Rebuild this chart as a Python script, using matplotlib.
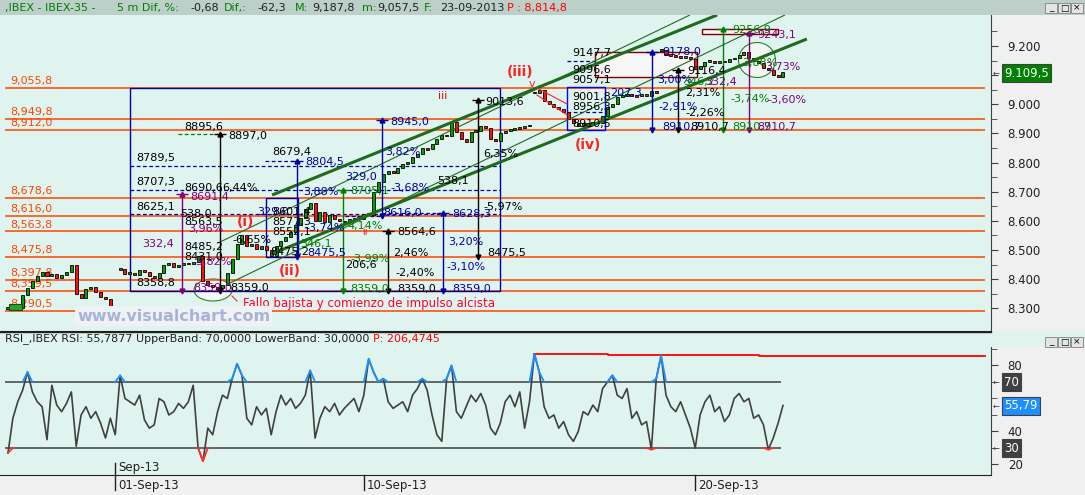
import numpy as np
import matplotlib.pyplot as plt
from matplotlib.patches import Rectangle, Ellipse
from matplotlib.lines import Line2D

W, H = 1085, 495

# 5 minute closes, IBEX-35
closes = [8300, 8296, 8302, 8345, 8370, 8395, 8412, 8425, 8410, 8418,
          8405, 8415, 8425, 8448, 8350, 8335, 8365, 8372, 8355, 8340,
          8332, 8305, 8298, 8435, 8418, 8422, 8415, 8430, 8425, 8410,
          8404, 8420, 8450, 8455, 8440, 8450, 8455, 8452, 8458, 8480,
          8395, 8380, 8372, 8368, 8380, 8420, 8470, 8520, 8552, 8515,
          8520, 8505, 8512, 8500, 8478, 8515, 8530, 8545, 8560, 8585,
          8610, 8640, 8660, 8600, 8630, 8595, 8620, 8605, 8600, 8595,
          8605, 8610, 8608, 8625, 8620, 8700, 8735, 8760, 8770, 8765,
          8780, 8795, 8800, 8820, 8830, 8850, 8845, 8865, 8880, 8895,
          8890, 8940, 8905, 8880, 8870, 8905, 8910, 8925, 8920, 8880,
          8875, 8900, 8910, 8912, 8920, 8918, 8925, 8930, 9040, 9050,
          9010, 9000, 8990, 8985, 8975, 8950, 8935, 8925, 8935, 8930,
          8940, 8935, 8960, 8990, 9000, 9025, 9030, 9035, 9030, 9028,
          9035, 9030, 9045, 9040, 9185, 9170, 9168, 9165, 9160, 9162,
          9155, 9120, 9130, 9145, 9150, 9142, 9148, 9145, 9155, 9160,
          9170, 9178, 9160, 9150, 9140, 9125, 9118, 9100, 9095, 9109.5]
gap_bars = [23, 108, 134]

rsi = [27, 48, 58, 65, 76, 64, 58, 55, 35, 68,
       56, 52, 57, 64, 31, 50, 55, 48, 52, 45,
       36, 48, 38, 74, 60, 58, 56, 62, 47, 42,
       44, 60, 58, 50, 52, 57, 54, 58, 68, 30,
       22, 42, 38, 52, 62, 60, 72, 81, 74, 48,
       44, 55, 50, 54, 38, 52, 62, 56, 60, 54,
       57, 62, 77, 36, 48, 55, 52, 57, 50, 54,
       57, 60, 52, 62, 84, 76, 70, 72, 58, 54,
       56, 58, 52, 62, 66, 72, 65, 50, 38, 34,
       72, 80, 52, 48, 55, 62, 58, 63, 56, 42,
       38, 45, 58, 62, 55, 64, 42, 58, 87, 76,
       55, 48, 50, 42, 46, 38, 34, 40, 52, 50,
       56, 52, 66, 70, 74, 62, 60, 66, 48, 52,
       44, 46, 29, 72, 86, 62, 55, 52, 58, 50,
       42, 30, 50, 58, 62, 52, 55, 46, 50, 60,
       63, 58, 60, 48, 50, 44, 29, 36, 45, 55.8]
rsi_bands = [70, 30]
rsi_max_x = [108, 123, 154, 200.5]
rsi_max_v = [86.8, 86.2, 85.8, 85.8]

levels = [9055.8, 8949.8, 8912.0, 8678.6, 8616.0, 8563.8, 8475.8, 8397.8, 8359.5, 8290.5]
fib_box = (25.0, 100.9, 8359.0, 9055.8)
fib_levels = [8789.5, 8707.3, 8625.1]

# (bar, from, to, colour) measuring arrows
measures = [(35.7, 8359.0, 8691.4, '#800080'),
            (43.5, 8359.0, 8897.0, 'black'),
            (59.3, 8475.5, 8804.5, '#0000a0'),
            (68.7, 8359.0, 8705.1, '#008000'),
            (76.7, 8616.0, 8945.0, '#0000a0'),
            (78.0, 8359.0, 8564.6, 'black'),
            (89.3, 8359.0, 8628.3, '#0000a0'),
            (96.4, 8475.5, 9013.6, 'black'),
            (132.1, 8910.7, 9178.0, '#0000a0'),
            (137.5, 8910.7, 9116.4, 'black'),
            (146.7, 8910.7, 9256.9, '#008000'),
            (152.0, 8910.7, 9243.1, '#800080')]

# trend channel (start, end, width)
channel_lines = [((54.2, 8688.7), (145.5, 9306.4), 2.2),
                 ((54.0, 8486.2), (163.9, 9224.0), 2.2),
                 ((43.1, 8524.0), (139.9, 9306.4), 0.8),
                 ((45.1, 8383.3), (159.4, 9306.4), 0.8)]

date_pos = [22, 73, 141]
date_labels = ['01-Sep-13', '10-Sep-13', '20-Sep-13']

MINT = '#e0f4ef'
GRAY = '#f0f0f0'
ORANGE = '#ff4500'
NAVY = '#0000a0'
PURPLE = '#800080'
GREEN = '#008000'
plt.rcParams['font.family'] = ['DejaVu Sans']


def fx(px):
    return px / W


def fy(py):
    return 1 - py / H


def bx(px):
    return (px - 8) / 4.874


def pr(py):
    return 9200 - (py - 46) / 0.2914


fig = plt.figure(figsize=(W / 100, H / 100), dpi=100, facecolor=GRAY)

# ---- price panel ----
ax = fig.add_axes([0, fy(331), fx(991), (331 - 15) / H])
ax.set_facecolor(MINT)
ax.set_xlim(bx(0), bx(991))
ax.set_ylim(pr(331), pr(15))
for s in ['left', 'top']:
    ax.spines[s].set_visible(False)
ax.spines['right'].set_color('#404040')
ax.spines['bottom'].set_color('#202020')
ax.set_xticks([])
ax.yaxis.tick_right()
yt = list(range(8300, 9201, 100))
ax.set_yticks(yt)
# 9.100 sits under the last-price box
ax.set_yticklabels(['' if v == 9100 else f'{v // 1000}.{v % 1000:03d}' for v in yt])
ax.set_yticks([v + 50 for v in yt], minor=True)
ax.tick_params(axis='y', which='major', direction='out', length=5, colors='#404040',
               labelcolor='#202020', labelsize=8.5, pad=7)
ax.tick_params(axis='y', which='minor', direction='out', length=4, colors='#404040')

x = np.arange(len(closes))
c = np.array(closes, dtype=float)
o = np.concatenate([[c[0]], c[:-1]])
o[gap_bars] = c[gap_bars]
up = c >= o
h = np.maximum(np.abs(c - o), 6)
bot = np.minimum(o, c) - (h - np.abs(c - o)) / 2
ax.bar(x, h, bottom=bot, width=0.62, color=np.where(up, '#00a000', '#ff1010'),
       edgecolor='black', linewidth=0.6, zorder=4)

# horizontal levels
ax.hlines(levels, bx(5), bx(985), color=ORANGE, lw=1.1, zorder=2)
for lv in levels:
    txt = f'{lv:,.1f}'.replace('.', ',')
    ax.text(bx(10), lv + 6, txt, color=ORANGE, fontsize=8, va='bottom', zorder=3)

# fibonacci box
x0, x1, p0, p1 = fib_box
ax.add_patch(Rectangle((x0, p0), x1 - x0, p1 - p0, fill=False, edgecolor=NAVY, lw=1, zorder=2))
ax.hlines(fib_levels, x0, x1, color=NAVY, lw=0.9, linestyles=(0, (3, 2)), zorder=2)

# extra boxes
ax.add_patch(Rectangle((bx(266), 8475.8), bx(298) - bx(266), 8678.6 - 8475.8,
                       fill=False, edgecolor=NAVY, lw=1, zorder=3))
ax.add_patch(Rectangle((bx(567), pr(130)), bx(605) - bx(567), pr(87) - pr(130),
                       fill=False, edgecolor='#0000ff', lw=1, zorder=3))
ax.add_patch(Rectangle((bx(595), pr(77)), bx(697) - bx(595), pr(52) - pr(77),
                       facecolor='#f6f6f6', edgecolor='#800000', lw=1, zorder=1.5))
ax.add_patch(Rectangle((bx(702), pr(34)), bx(778) - bx(702), pr(29) - pr(34),
                       facecolor='#f6f6f6', edgecolor='#800000', lw=1, zorder=1.5))

# dashed short levels
ax.hlines(8897.0, bx(178), bx(220), color=GREEN, lw=0.9, linestyles=(0, (3, 2)), zorder=3)
ax.hlines(8804.5, bx(265), bx(297), color=NAVY, lw=0.9, linestyles=(0, (3, 2)), zorder=3)
ax.hlines(8616.0, bx(345), bx(382), color=NAVY, lw=0.9, linestyles=(0, (3, 2)), zorder=3)
ax.hlines(8628.3, bx(382), bx(443), color=NAVY, lw=0.9, linestyles=(0, (3, 2)), zorder=3)
ax.hlines(pr(61), bx(567), bx(595), color=NAVY, lw=0.9, linestyles=(0, (3, 2)), zorder=3)
ax.hlines(pr(112), bx(567), bx(605), color=NAVY, lw=0.9, linestyles=(0, (3, 2)), zorder=3)

# ellipses
ax.add_patch(Ellipse((bx(213), pr(290)), 38 / 4.874, 22 / 0.2914, facecolor='#f4faf7',
                     edgecolor='#2e7d2e', lw=0.8, zorder=1.5))
ax.add_patch(Ellipse((bx(757), pr(60)), 37 / 4.874, 35 / 0.2914, facecolor='#eef7f2',
                     edgecolor='#2e7d2e', lw=0.8, zorder=1.5))

# channel
for (xa, ya), (xb, yb), lw in channel_lines:
    ax.plot([xa, xb], [ya, yb], color='#1e6b1e', lw=lw, solid_capstyle='butt', zorder=5)

# red corrective channel
ax.plot([bx(537), bx(567)], [pr(88), pr(104)], color='#ff2020', lw=0.8, zorder=5)
ax.plot([bx(537), bx(567)], [pr(95), pr(115)], color='#ff2020', lw=0.8, zorder=5)

# measuring arrows
for bar, lo, hi, col in measures:
    ax.vlines(bar, lo, hi, color=col, lw=1, zorder=6)
    ax.plot(bar, hi, marker='^', color=col, ms=3.5, zorder=6)
    ax.plot(bar, hi, marker='_', color=col, ms=8, mew=1, zorder=6)
    ax.plot(bar, lo, marker='v', color=col, ms=3.5, zorder=6)

labels = [
    ('8895,6', 184, 127, 'k'), ('8897,0', 228, 136, 'k'), ('8789,5', 136, 158, 'k'),
    ('8707,3', 136, 182, 'k'), ('8690,6', 184, 188, 'k'), ('6,44%', 222, 188, 'k'),
    ('8691,4', 190, 197, PURPLE), ('8625,1', 136, 207, 'k'), ('538,0', 180, 214, 'k'),
    ('8563,5', 184, 222, 'k'), ('3,96%', 188, 229, PURPLE), ('332,4', 142, 244, PURPLE),
    ('8485,2', 184, 247, 'k'), ('8431,0', 184, 257, 'k'), ('-3,82%', 192, 262, PURPLE),
    ('8358,8', 136, 283, 'k'), ('8359,0', 193, 288, PURPLE), ('8359,0', 230, 288, 'k'),
    ('-6,65%', 232, 240, 'k'), ('8679,4', 272, 152, 'k'), ('8804,5', 305, 162, NAVY),
    ('329,0', 345, 177, NAVY), ('3,88%', 303, 192, NAVY), ('329,0', 257, 212, NAVY),
    ('8601,4', 272, 212, 'k'), ('8577,3', 272, 222, 'k'), ('8552,1', 272, 232, 'k'),
    ('-3,74%', 305, 228, NAVY), ('346,1', 300, 244, GREEN), ('8475,2', 270, 252, 'k'),
    ('8475,5', 307, 253, NAVY), ('8705,1', 350, 191, GREEN), ('4,14%', 347, 226, GREEN),
    ('-3,99%', 350, 259, GREEN), ('8359,0', 350, 289, GREEN), ('206,6', 345, 265, 'k'),
    ('8945,0', 390, 122, NAVY), ('3,82%', 385, 152, NAVY), ('-3,68%', 390, 188, NAVY),
    ('8616,0', 383, 213, NAVY), ('8564,6', 397, 232, 'k'), ('2,46%', 393, 253, 'k'),
    ('-2,40%', 395, 273, 'k'), ('8359,0', 397, 289, 'k'), ('538,1', 437, 181, 'k'),
    ('8628,3', 452, 214, NAVY), ('3,20%', 448, 242, NAVY), ('-3,10%', 446, 267, NAVY),
    ('8359,0', 452, 289, NAVY), ('9013,6', 485, 102, 'k'), ('6,35%', 483, 154, 'k'),
    ('-5,97%', 483, 207, 'k'), ('8475,5', 487, 253, 'k'), ('9147,7', 572, 53, 'k'),
    ('9096,6', 572, 70, 'k'), ('9057,1', 572, 80, 'k'), ('9001,8', 572, 97, 'k'),
    ('8956,3', 572, 107, 'k'), ('8910,5', 572, 124, 'k'), ('9178,0', 662, 52, NAVY),
    ('3,00%', 657, 80, NAVY), ('-2,91%', 658, 107, NAVY), ('8910,7', 662, 127, NAVY),
    ('9116,4', 687, 71, 'k'), ('2,31%', 685, 93, 'k'), ('-2,26%', 685, 113, 'k'),
    ('8910,7', 690, 127, 'k'), ('207,3', 610, 93, NAVY), ('346,2', 683, 82, GREEN),
    ('332,4', 705, 82, PURPLE), ('9256,9', 732, 30, GREEN), ('9243,1', 757, 35, PURPLE),
    ('3,88%', 742, 63, GREEN), ('3,73%', 765, 67, PURPLE), ('-3,74%', 730, 99, GREEN),
    ('-3,60%', 767, 100, PURPLE), ('8910,7', 732, 127, GREEN), ('8910,7', 757, 127, PURPLE),
]
for s, px, py, col in labels:
    ax.text(bx(px), pr(py), s, color=col, fontsize=8, va='center', ha='left', zorder=7)

# elliott wave counts
for s, px, py, fs in [('(i)', 245, 222, 10), ('(ii)', 290, 271, 10), ('(iii)', 520, 72, 10),
                      ('(iv)', 588, 145, 10)]:
    ax.text(bx(px), pr(py), s, color='#ff2020', fontsize=fs, fontweight='bold',
            ha='center', va='center', zorder=8)
ax.text(bx(443), pr(96), 'iii', color='#d01010', fontsize=8, ha='center', va='center', zorder=8)
ax.text(bx(365), pr(232), 'ii', color='#ff2020', fontsize=7, ha='center', va='center', zorder=8)
ax.text(bx(532), pr(84), 'v', color='#ff2020', fontsize=8, ha='center', va='center', zorder=8)

ax.plot([bx(232), bx(237)], [pr(296), pr(301)], color='#ff2020', lw=0.8, zorder=8)
ax.text(bx(243), pr(303), 'Fallo bajista y comienzo de impulso alcista', color='#ff0030',
        fontsize=8.5, va='center', ha='left', zorder=8)
ax.text(bx(77), pr(316), 'www.visualchart.com', color='#a8b2da', fontsize=11.5,
        fontweight='bold', va='center', ha='left', zorder=9,
        bbox=dict(facecolor='#eef2f2', edgecolor='none', pad=1.5))
ax.add_patch(Rectangle((bx(9), pr(310)), bx(22) - bx(9), pr(304) - pr(310),
                       facecolor='#2ea02e', edgecolor='#105010', lw=0.8, zorder=9))

# ---- RSI panel ----
rax = fig.add_axes([0, fy(475), fx(991), (475 - 347) / H])
rax.set_facecolor(MINT)
rax.set_xlim(bx(0), bx(991))
rax.set_ylim(13.6, 91.2)
for s in ['left', 'top']:
    rax.spines[s].set_visible(False)
rax.spines['right'].set_color('#404040')
rax.spines['bottom'].set_color('#202020')
rax.set_xticks([])
rax.yaxis.tick_right()
rax.set_yticks([20, 40, 80])
rax.set_yticks([30, 50, 60, 70, 90], minor=True)
rax.tick_params(axis='y', which='major', direction='out', length=5, colors='#404040',
                labelcolor='#202020', labelsize=8.5, pad=7)
rax.tick_params(axis='y', which='minor', direction='out', length=4, colors='#404040')

rx = np.arange(len(rsi))
r = np.array(rsi, dtype=float)
rax.hlines(rsi_bands, bx(5), bx(781), color='#404040', lw=1.1, zorder=2)
rax.step(rsi_max_x, rsi_max_v, where='post', color='#ff0000', lw=1.3, zorder=2)
rax.plot(rx, r, color='#404040', lw=1.2, zorder=3)
hi = r > 70
lo = r < 30
keep_hi = hi | np.roll(hi, 1) | np.roll(hi, -1)
keep_lo = lo | np.roll(lo, 1) | np.roll(lo, -1)
rax.plot(rx, np.ma.masked_where(~keep_hi, np.maximum(r, 70)), color='#1e8fff', lw=1.3, zorder=4)
rax.plot(rx, np.ma.masked_where(~keep_lo, np.minimum(r, 30)), color='#ff3030', lw=1.3, zorder=4)

# strip for rsi header
fig.add_artist(Rectangle((0, fy(347)), 1, 16 / H, transform=fig.transFigure,
                         facecolor=MINT, edgecolor='none', zorder=0))
fig.add_artist(Line2D([0, fx(991)], [fy(331.5), fy(331.5)], color='#202020', lw=1))
tx = 5
for s, col in [('RSI_,IBEX RSI: 55,7877 UpperBand: 70,0000 LowerBand: 30,0000 ', '#202020'),
               ('P: 206,4745', '#ff0000')]:
    t = fig.text(fx(tx), fy(339), s, color=col, fontsize=8, va='center', ha='left')
    fig.canvas.draw()
    tx += t.get_window_extent().width

# title bar
fig.add_artist(Rectangle((0, fy(15)), 1, 15 / H, transform=fig.transFigure,
                         facecolor='#bccfc9', edgecolor='none', zorder=0))
for s, px, col in [(',IBEX - IBEX-35 -', 5, GREEN), ('5 m Dif, %:', 117, GREEN),
                   ('-0,68', 190, '#202020'), ('Dif,:', 224, GREEN), ('-62,3', 257, '#202020'),
                   ('M:', 295, GREEN), ('9,187,8', 312, '#202020'), ('m:', 362, GREEN),
                   ('9,057,5', 377, '#202020'), ('F:', 424, GREEN), ('23-09-2013', 440, '#202020'),
                   ('P : 8,814,8', 507, '#ff0000')]:
    fig.text(fx(px), fy(8), s, color=col, fontsize=8, va='center', ha='left')

# window buttons
for yb in [3, 337]:
    for i, g in enumerate(['_', '□', '×']):
        xb = 1045 + i * 13
        fig.add_artist(Rectangle((fx(xb), fy(yb + 10)), 12 / W, 10 / H, transform=fig.transFigure,
                                 facecolor='#e4e4e4', edgecolor='#808080', lw=0.6))
        fig.text(fx(xb + 6), fy(yb + 5), g, fontsize=6.5, ha='center', va='center', color='black')

# value boxes on the scales
fig.text(fx(1004), fy(73), '9.109,5', color='white', fontsize=8.5, va='center', ha='left',
         bbox=dict(facecolor='#008000', edgecolor='#404040', pad=1.5, lw=0.8))
fig.text(fx(993), fy(73), '←', color='#404040', fontsize=6, va='center', ha='left')
for s, py, fc in [('70', 382, '#404040'), ('55,79', 406, '#1e8fff'), ('30', 448, '#404040')]:
    fig.text(fx(1004), fy(py), s, color='white', fontsize=8.5, va='center', ha='left',
             bbox=dict(facecolor=fc, edgecolor='#404040', pad=1.5, lw=0.8))
    fig.text(fx(993), fy(py), '←', color='#404040', fontsize=6, va='center', ha='left')

# date axis
for i, (p, s) in enumerate(zip(date_pos, date_labels)):
    xp = 8 + p * 4.874
    top = 463 if i == 0 else 475
    fig.add_artist(Line2D([fx(xp), fx(xp)], [fy(top), fy(490)], color='#202020', lw=1))
    fig.text(fx(xp + 3), fy(485), s, fontsize=8.5, color='#202020', va='center', ha='left')
fig.text(fx(8 + date_pos[0] * 4.874 + 3), fy(468), 'Sep-13', fontsize=8.5, color='#202020',
         va='center', ha='left')

fig.savefig('out.png', dpi=100, facecolor=GRAY)
